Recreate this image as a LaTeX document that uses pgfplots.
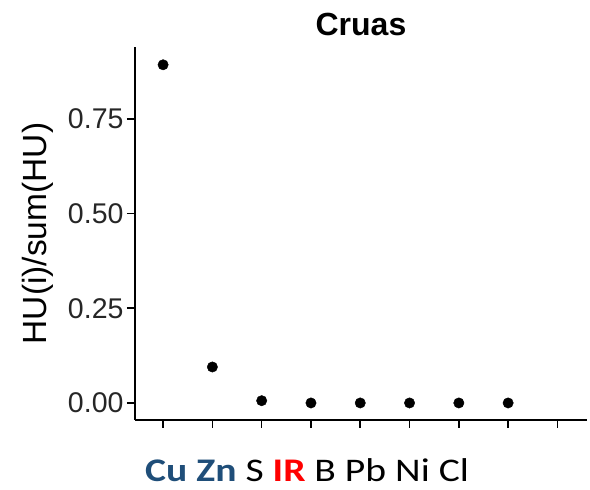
\documentclass[border=0pt]{standalone}
\usepackage{fontspec}
\setmainfont{Liberation Sans}
\newfontfamily\calib{Carlito}
\usepackage{pgfplots}
\pgfplotsset{compat=1.18}
\definecolor{elblue}{HTML}{1F4E79}
\definecolor{elred}{HTML}{FF0000}
\begin{document}
\begin{tikzpicture}[x=1pt,y=1pt]
  % picture frame: 590 x 490, axis corner at (135,420) from the top left
  \path[use as bounding box] (-135,-70) rectangle (455,420);
  \begin{axis}[
      at={(0,0)}, anchor=south west,
      scale only axis, width=452pt, height=373pt,
      xmin=0.43, xmax=9.6, ymin=-0.045, ymax=0.94,
      axis x line*=bottom, axis y line*=left,
      axis line style={line width=2pt, -},
      xtick={1,...,9}, xticklabels={},
      ytick={0,0.25,0.5,0.75},
      yticklabel style={/pgf/number format/.cd, fixed, fixed zerofill, precision=2, assume math mode=true},
      ticklabel style={font=\fontsize{28.5}{31}\selectfont, text=black!85},
      tick align=outside, major tick length=8pt,
      tick style={black, line width=1.6pt},
      title={\bfseries Cruas},
      title style={font=\fontsize{32}{36}\selectfont, yshift=2pt},
      ylabel={HU(i)/sum(HU)},
      ylabel style={font=\fontsize{33.5}{37}\selectfont, yshift=8pt},
    ]
    \addplot[only marks, mark=*, mark size=5.2pt, black] coordinates {
        (1,0.893) (2,0.095) (3,0.006) (4,0.0) (5,0.0) (6,0.0) (7,0.0) (8,0.0)
      };
  \end{axis}
  \node[anchor=base west, inner sep=0pt, xscale=1.2, font=\calib\fontsize{33}{36}\selectfont] at (10,-62)
    {\textcolor{elblue}{\bfseries Cu Zn} S \textcolor{elred}{\bfseries IR} B Pb Ni Cl};
\end{tikzpicture}
\end{document}
